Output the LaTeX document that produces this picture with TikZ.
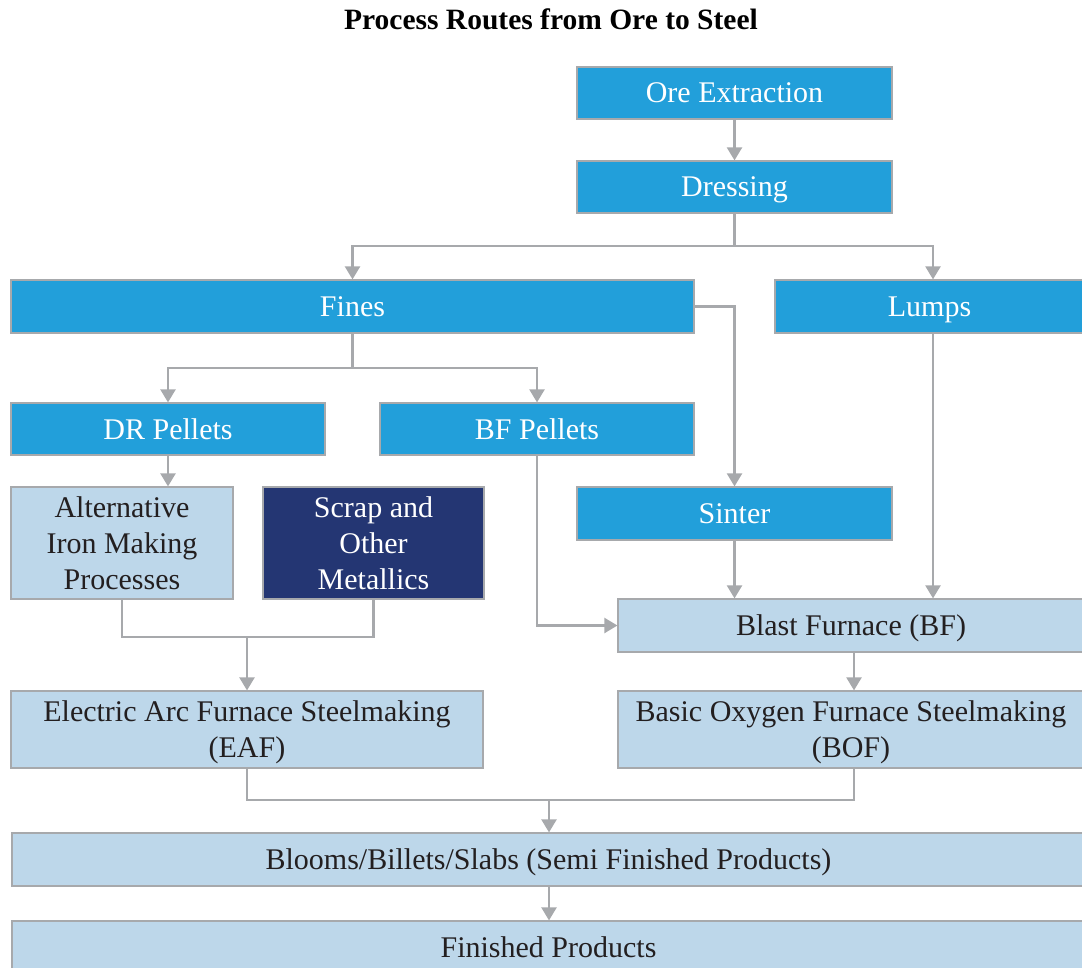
\documentclass[tikz,border=0pt]{standalone}
\usepackage{fontspec}
\setmainfont{Liberation Serif}
\usetikzlibrary{arrows.meta}
\definecolor{brightblue}{HTML}{229FDA}
\definecolor{paleblue}{HTML}{BDD7EA}
\definecolor{navy}{HTML}{243673}
\definecolor{edgegrey}{HTML}{A7A9AC}
\definecolor{inkdark}{HTML}{231F20}
\tikzset{
  box/.style={draw=edgegrey, line width=1.2pt, inner sep=0pt, align=center,
    font=\fontsize{30}{36}\selectfont},
  oneline/.style={text height=20pt, text depth=0pt},
  twoline/.style={text height=56pt, text depth=0pt},
  threeline/.style={text height=92pt, text depth=0pt},
  primary/.style={box, fill=brightblue, text=white},
  secondary/.style={box, fill=paleblue, text=inkdark},
  scrapbox/.style={box, fill=navy, text=white},
  link/.style={draw=edgegrey, line width=2.3pt},
  arr/.style={link, -{Triangle[width=15pt,length=13pt]}},
}
\begin{document}
\begin{tikzpicture}[x=1pt,y=-1pt]
\clip (0,0) rectangle (1082,968);
\useasboundingbox (0,0) rectangle (1082,968);

\node[font=\fontsize{29.5}{36}\selectfont\bfseries, text=black, text height=20pt, text depth=0pt, inner sep=0pt]
  (title) at (551,20) {Process Routes from Ore to Steel};

% upstream ore preparation
\node[primary, oneline, minimum width=315pt, minimum height=52pt] (ore) at (734.5,93) {Ore Extraction};
\node[primary, oneline, minimum width=315pt, minimum height=52pt] (dress) at (734.5,187) {Dressing};
\node[primary, oneline, minimum width=683pt, minimum height=53pt] (fines) at (352.5,306.5) {Fines};
\node[primary, oneline, minimum width=309pt, minimum height=53pt] (lumps) at (929.5,306.5) {Lumps};
\node[primary, oneline, minimum width=314pt, minimum height=52pt] (drp) at (168,429) {DR Pellets};
\node[primary, oneline, minimum width=314pt, minimum height=52pt] (bfp) at (537,429) {BF Pellets};
\node[primary, oneline, minimum width=315pt, minimum height=53pt] (sinter) at (734.5,513.5) {Sinter};

% iron making
\node[secondary, threeline, minimum width=222pt, minimum height=112pt] (alt) at (122,543)
  {Alternative\\Iron Making\\Processes};
\node[scrapbox, threeline, minimum width=221pt, minimum height=112pt] (scrap) at (373.5,543)
  {Scrap and\\Other\\Metallics};
\node[secondary, oneline, minimum width=466pt, minimum height=53pt] (bf) at (851,625.5) {Blast Furnace (BF)};

% steelmaking
\node[secondary, twoline, minimum width=472pt, minimum height=77pt] (eaf) at (247,729.5)
  {Electric Arc Furnace Steelmaking\\(EAF)};
\node[secondary, twoline, minimum width=466pt, minimum height=77pt] (bof) at (851,729.5)
  {Basic Oxygen Furnace Steelmaking\\(BOF)};

% products
\node[secondary, oneline, minimum width=1073pt, minimum height=53pt] (blooms) at (548.5,859.5)
  {Blooms/Billets/Slabs (Semi Finished Products)};
\node[secondary, oneline, minimum width=1073pt, minimum height=53pt] (fin) at (548.5,947.5)
  {Finished Products};

% junction points
\coordinate (jDress) at (734.5,246);
\coordinate (jFines) at (352.5,368);
\coordinate (jIron) at (247,637);
\coordinate (jSteel) at (549,800);

% connectors
\draw[arr] (ore) -- (dress);
\draw[link] (dress.south) -- (jDress);
\draw[arr] (jDress) -| (fines.north);
\draw[arr] (jDress) -| ([xshift=3.5pt]lumps.north);
\draw[link] (fines.south) -- (jFines);
\draw[arr] (jFines) -| (drp.north);
\draw[arr] (jFines) -| (bfp.north);
\draw[arr] (fines.east) -| (sinter.north);
\draw[arr] (drp.south) -- (drp.south |- alt.north);
\draw[arr] (bfp.south) |- (bf.west);
\draw[arr] (sinter.south) -- (sinter.south |- bf.north);
\draw[arr] ([xshift=3.5pt]lumps.south) -- ([xshift=3.5pt]lumps.south |- bf.north);
\draw[link] (alt.south) |- (jIron) -| (scrap.south);
\draw[arr] (jIron) -- (eaf.north);
\draw[arr] ([xshift=3pt]bf.south) -- ([xshift=3pt]bf.south |- bof.north);
\draw[link] (eaf.south) |- (jSteel) -| ([xshift=3pt]bof.south);
\draw[arr] (jSteel) -- (jSteel |- blooms.north);
\draw[arr] ([xshift=0.5pt]blooms.south) -- ([xshift=0.5pt]blooms.south |- fin.north);
\end{tikzpicture}
\end{document}
